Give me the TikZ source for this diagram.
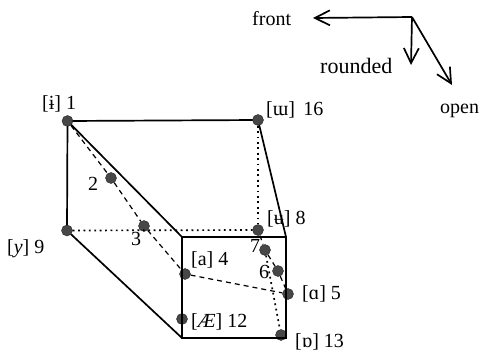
\documentclass[tikz,border=0pt]{standalone}
\usepackage{fontspec}
\setmainfont{Liberation Serif}
\usetikzlibrary{arrows.meta}
\begin{document}
\begin{tikzpicture}[
  x=1pt,
  y=-1pt,
  edge/.style={line width=1.7pt,line cap=round},
  dashedge/.style={line width=1.2pt,dash pattern=on 5pt off 4pt},
  dotedge/.style={line width=1.7pt,dash pattern=on 1.8pt off 3.6pt},
  axis/.style={line width=1.7pt,-{Straight Barb[length=15pt,width=15pt]}},
  vowel/.style={circle,fill=black!72,draw=black!85,line width=0.4pt,minimum size=11pt,inner sep=0pt},
  tag/.style={font=\fontsize{20}{20}\selectfont,inner sep=0pt}
]
  \useasboundingbox (0,0) rectangle (483,351);
  % vowels
  \node[vowel] (i1) at (67.5,121) {};
  \node[vowel] (v2) at (111,178) {};
  \node[vowel] (v3) at (144,226) {};
  \node[vowel] (a4) at (185,274) {};
  \node[vowel] (a5) at (288,294) {};
  \node[vowel] (v6) at (278,271) {};
  \node[vowel] (v7) at (265,250) {};
  \node[vowel] (u8) at (258,230) {};
  \node[vowel] (y9) at (67,230.5) {};
  \node[vowel] (ae12) at (182,319) {};
  \node[vowel] (o13) at (281,335) {};
  \node[vowel] (m16) at (258,120) {};
  % box corners
  \coordinate (tl) at (182,237);
  \coordinate (tr) at (286,237);
  \coordinate (bl) at (182,338);
  \coordinate (br) at (286,338);
  % solid edges
  \draw[edge] (i1) -- (m16);
  \draw[edge] (i1) -- (y9);
  \draw[edge] (i1) -- (tl);
  \draw[edge] (y9) -- (bl);
  \draw[edge] (m16) -- (tr);
  \draw[edge] (tl) -- (tr) -- (br) -- (bl) -- cycle;
  % hidden edges
  \draw[dotedge] (y9) -- (u8);
  \draw[dotedge] (m16) -- (u8);
  \draw[dotedge] (v7) -- (o13);
  \draw[dashedge] (i1) -- (v2) -- (v3) -- (a4) -- (a5);
  \draw[dashedge] (u8) -- (v7) -- (v6) -- (a5);
  % labels
  \node[tag,anchor=base west] (t1) at (42,109) {[ɨ]\ 1};
  \node[tag,anchor=base west] (t2) at (88,190) {2};
  \node[tag,anchor=base west] (t3) at (131,245) {3};
  \node[tag,anchor=base west] (t4) at (191,265) {[a]\ 4};
  \node[tag,anchor=base west] (t5) at (302,299) {[ɑ]\ 5};
  \node[tag,anchor=base west] (t6) at (259,278) {6};
  \node[tag,anchor=base west] (t7) at (250,252) {7};
  \node[tag,anchor=base west] (t8) at (267,224) {[ʉ]\ 8};
  \node[tag,anchor=base west] (t9) at (7,253) {[\textit{y}]\ 9};
  \node[tag,anchor=base west] (t12) at (191,327) {[\textit{Æ}]\ 12};
  \node[tag,anchor=base west] (t13) at (295,347) {[ɒ]\ 13};
  \node[tag,anchor=base west] (t16) at (266,115) {[ɯ]\ \,16};
  % axes
  \coordinate (origin) at (412,17);
  \coordinate (fronttip) at (313,18);
  \coordinate (roundedtip) at (411,65);
  \coordinate (opentip) at (452,85);
  \draw[axis] (origin) -- (fronttip);
  \draw[axis] (origin) -- (roundedtip);
  \draw[axis] (origin) -- (opentip);
  \node[tag,anchor=base west] (front) at (252,25) {front};
  \node[tag,anchor=base west,font=\fontsize{22}{22}\selectfont] (rounded) at (320,73) {rounded};
  \node[tag,anchor=base west] (open) at (440,113) {open};
\end{tikzpicture}
\end{document}
